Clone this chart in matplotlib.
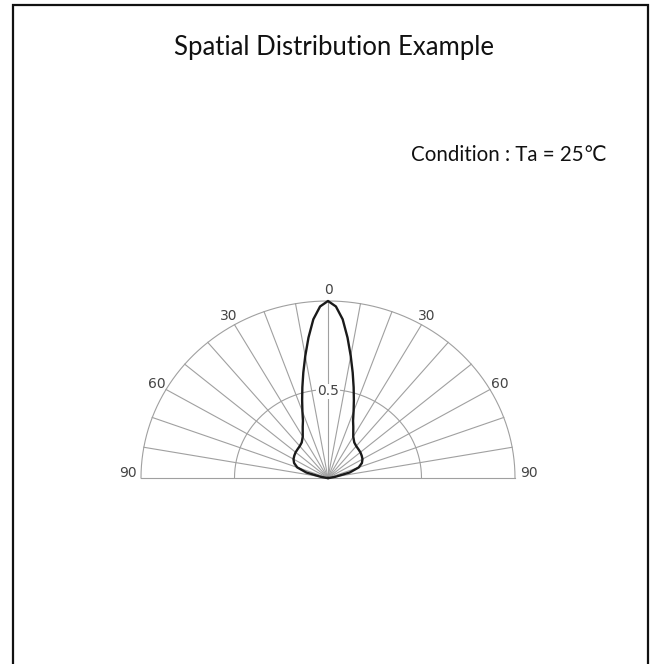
import numpy as np
import matplotlib
matplotlib.use("Agg")
import matplotlib.pyplot as plt
from matplotlib.patches import Rectangle

# Relative intensity vs. angle (deg), symmetric about 0
angles = [0, 2.5, 5, 7.5, 10, 12.5, 15, 17.5, 20, 22.5, 25, 30, 35, 40, 45,
          50, 55, 60, 65, 70, 75, 80, 85, 90]
intensity = [1.00, 0.97, 0.90, 0.80, 0.70, 0.61, 0.53, 0.46, 0.40, 0.35,
             0.32, 0.27, 0.245, 0.235, 0.23, 0.226, 0.22, 0.213, 0.20,
             0.175, 0.12, 0.04, 0.01, 0.0]

grid_angles = list(range(-90, 91, 10))
grid_radii = [0.5, 1.0]
angle_labels = [(-90, "90"), (-60, "60"), (-30, "30"), (0, "0"), (30, "30"), (60, "60"), (90, "90")]

title = "Spatial Distribution Example"
condition = "Condition : Ta = 25\u2103"

W, H = 651, 664
fig = plt.figure(figsize=(W / 100, H / 100), dpi=100)
fig.patch.set_facecolor("white")

# outer frame (open at the bottom, like the cropped source)
fig.patches.append(Rectangle((13 / W, -0.1), (648 - 13) / W, 1.1 - 5 / H,
                             transform=fig.transFigure, fill=False,
                             edgecolor="#111111", linewidth=1.6))

fig.text(334 / W, 1 - 47 / H, title, ha="center", va="center",
         fontsize=18.5, family=["Lato", "DejaVu Sans"], color="#111111")
fig.text(607 / W, 1 - 155 / H, condition, ha="right", va="center",
         fontsize=14.8, family=["Lato", "DejaVu Sans"], color="#111111")

# axes so that radius 1 spans the semicircle of the picture
ax = fig.add_axes([141 / W, (H - 478) / H, 374 / W, 177 / H])
ax.set_xlim(-1, 1)
ax.set_ylim(0, 1)
ax.axis("off")

gcol = "#a0a0a0"
t = np.radians(np.linspace(-90, 90, 361))
for r in grid_radii:
    ax.plot(r * np.sin(t), r * np.cos(t), color=gcol, lw=0.8, clip_on=False, zorder=1)
for a in grid_angles:
    ar = np.radians(a)
    ax.plot([0, np.sin(ar)], [0, np.cos(ar)], color=gcol, lw=0.8, clip_on=False, zorder=1)

for a, lab in angle_labels:
    ar = np.radians(a)
    if abs(a) == 90:
        ax.text(1.025 * np.sign(a), 0.03, lab, ha="left" if a > 0 else "right",
                va="center", fontsize=10, color="#444444")
    else:
        ax.text(1.06 * np.sin(ar), 1.06 * np.cos(ar), lab, ha="center",
                va="center", fontsize=10, color="#444444")
ax.text(0, 0.49, "0.5", ha="center", va="center", fontsize=10, color="#444444",
        bbox=dict(facecolor="white", edgecolor="none", pad=0.5), zorder=2)

# intensity curve, mirrored to both sides
ang = np.array(angles, dtype=float)
val = np.array(intensity)
th = np.radians(np.concatenate([-ang[::-1], ang[1:]]))
rr = np.concatenate([val[::-1], val[1:]])
ax.plot(rr * np.sin(th), rr * np.cos(th), color="#1a1a1a", lw=1.7,
        clip_on=False, zorder=3, solid_joinstyle="round")

fig.savefig("out.png", dpi=100)
